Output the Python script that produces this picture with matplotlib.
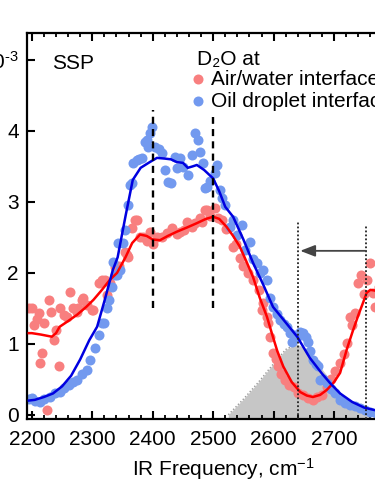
import matplotlib
matplotlib.use("Agg")
import matplotlib.pyplot as plt
from matplotlib.ticker import MultipleLocator, FixedLocator

plt.rcParams['font.family'] = ['Liberation Sans', 'DejaVu Sans']
plt.rcParams['mathtext.fontset'] = 'custom'
plt.rcParams['mathtext.rm'] = 'Liberation Sans'
plt.rcParams['mathtext.default'] = 'regular'

# ---------------- data ----------------
blue_x = [2196, 2200, 2206, 2213, 2220, 2230, 2238, 2246, 2254, 2261, 2268, 2275, 2283, 2291, 2296,
          2304, 2311, 2316, 2319, 2324, 2328, 2332, 2335, 2338, 2341, 2343, 2346, 2350, 2354, 2359,
          2362, 2366, 2367, 2374, 2378, 2382, 2387, 2390, 2392, 2395, 2399, 2404, 2410, 2415, 2420,
          2425, 2430, 2437, 2440, 2445, 2450, 2458, 2465, 2470, 2475, 2478, 2483, 2486, 2489, 2495,
          2503, 2506, 2511, 2515, 2520, 2528, 2533, 2539, 2547, 2553, 2561, 2566, 2572, 2578, 2583,
          2589, 2594, 2599, 2605, 2611, 2617, 2622, 2627, 2630, 2635, 2639, 2644, 2649, 2653, 2657,
          2661, 2665, 2670, 2674, 2677, 2682, 2688, 2695, 2702, 2710, 2718, 2726, 2735, 2743, 2752,
          2760, 2770]
blue_y = [0.22, 0.24, 0.20, 0.18, 0.22, 0.25, 0.30, 0.32, 0.38, 0.42, 0.46, 0.49, 0.57, 0.63, 0.77,
          0.94, 1.13, 1.30, 1.30, 1.51, 1.62, 1.80, 2.15, 1.97, 1.97, 2.42, 2.04, 2.42, 2.61, 2.96,
          3.24, 3.27, 3.55, 3.59, 3.60, 3.62, 3.85, 3.87, 3.77, 3.97, 4.06, 3.77, 3.75, 3.69, 3.45,
          3.28, 3.27, 3.63, 3.48, 3.62, 3.49, 3.38, 3.66, 3.97, 3.87, 3.70, 3.55, 3.20, 3.21, 3.30,
          3.41, 3.52, 3.17, 3.05, 2.96, 2.65, 2.75, 2.54, 2.68, 2.32, 2.44, 2.20, 2.14, 2.00, 2.04,
          1.90, 1.65, 1.52, 1.42, 1.34, 1.28, 1.24, 1.15, 1.03, 1.12, 1.10, 1.16, 1.15, 1.10, 1.03,
          0.90, 0.77, 0.72, 0.68, 0.49, 0.50, 0.45, 0.36, 0.31, 0.21, 0.17, 0.14, 0.12, 0.10, 0.07,
          0.04, 0.03]

red_x = [2196, 2200, 2203, 2208, 2212, 2213, 2217, 2220, 2225, 2228, 2232, 2236, 2240, 2245, 2246,
         2253, 2258, 2263, 2268, 2275, 2276, 2283, 2285, 2292, 2299, 2301, 2311, 2316, 2321, 2324,
         2330, 2338, 2345, 2354, 2357, 2359, 2366, 2371, 2374, 2379, 2384, 2390, 2395, 2401, 2407,
         2415, 2423, 2432, 2440, 2445, 2451, 2457, 2465, 2470, 2478, 2481, 2486, 2489, 2495, 2503,
         2508, 2515, 2522, 2533, 2538, 2544, 2550, 2557, 2566, 2575, 2581, 2583, 2589, 2591, 2594,
         2599, 2604, 2608, 2613, 2619, 2626, 2633, 2641, 2649, 2657, 2665, 2672, 2680, 2688, 2695,
         2702, 2710, 2716, 2721, 2726, 2730, 2735, 2740, 2745, 2750, 2755, 2760, 2765, 2768, 2775]
red_y = [1.50, 1.51, 1.27, 1.35, 1.44, 0.73, 0.87, 1.30, 0.07, 1.62, 1.45, 1.06, 1.20, 0.68, 1.51,
         1.41, 1.38, 1.73, 1.50, 1.45, 1.51, 1.62, 1.65, 1.55, 1.48, 1.48, 1.86, 1.90, 1.90, 1.69,
         1.85, 2.08, 2.10, 2.30, 2.25, 2.22, 2.63, 2.75, 2.75, 2.50, 2.51, 2.45, 2.58, 2.40, 2.51,
         2.50, 2.56, 2.63, 2.55, 2.58, 2.60, 2.72, 2.65, 2.70, 2.77, 2.72, 2.89, 2.89, 2.80, 2.91,
         2.77, 2.75, 2.62, 2.37, 2.40, 2.21, 2.10, 2.00, 1.90, 1.76, 1.48, 1.58, 1.38, 1.30, 1.10,
         0.87, 0.78, 0.68, 0.58, 0.49, 0.42, 0.39, 0.30, 0.28, 0.24, 0.21, 0.25, 0.28, 0.39, 0.50,
         0.61, 0.73, 0.85, 1.01, 1.38, 1.27, 1.44, 1.86, 1.97, 1.70, 1.90, 2.14, 1.72, 1.52, 1.80]

red_fit_x = [2195, 2200, 2215, 2233, 2240, 2246, 2260, 2275, 2290, 2302, 2315, 2329, 2341, 2355, 2366,
             2379, 2390, 2400, 2412, 2425, 2440, 2457, 2473, 2488, 2500, 2510, 2522, 2533, 2544, 2555,
             2566, 2577, 2589, 2597, 2606, 2616, 2630, 2644, 2655, 2665, 2677, 2688, 2700, 2710, 2721,
             2731, 2740, 2748, 2754, 2760, 2768, 2780, 2800]
red_fit_y = [1.15, 1.15, 1.13, 1.10, 1.15, 1.24, 1.32, 1.41, 1.52, 1.62, 1.75, 1.90, 2.00, 2.22, 2.42,
             2.54, 2.52, 2.47, 2.46, 2.52, 2.58, 2.64, 2.70, 2.76, 2.79, 2.76, 2.65, 2.52, 2.37, 2.16,
             1.94, 1.65, 1.38, 1.15, 0.90, 0.68, 0.46, 0.32, 0.27, 0.25, 0.28, 0.35, 0.46, 0.59, 0.92,
             1.18, 1.40, 1.58, 1.72, 1.76, 1.75, 1.65, 1.40]

blue_fit_x = [2195, 2205, 2220, 2235, 2250, 2265, 2280, 2295, 2308, 2320, 2334, 2342, 2355, 2367, 2380,
              2395, 2407, 2420, 2430, 2440, 2450, 2458, 2466, 2473, 2485, 2500, 2510, 2520, 2533, 2550,
              2566, 2583, 2599, 2620, 2639, 2660, 2680, 2693, 2710, 2730, 2750, 2770, 2800]
blue_fit_y = [0.20, 0.21, 0.25, 0.30, 0.40, 0.55, 0.78, 1.05, 1.24, 1.60, 2.04, 2.22, 2.80, 3.31, 3.48,
              3.56, 3.62, 3.61, 3.60, 3.56, 3.55, 3.48, 3.50, 3.52, 3.45, 3.33, 3.15, 2.93, 2.79, 2.47,
              2.14, 1.83, 1.52, 1.30, 1.10, 0.80, 0.58, 0.45, 0.30, 0.18, 0.10, 0.06, 0.04]

gray_x = [2525, 2550, 2575, 2600, 2620, 2638, 2655, 2675, 2700, 2720, 2740, 2760]
gray_y = [0.00, 0.22, 0.46, 0.72, 0.92, 1.00, 0.92, 0.70, 0.42, 0.22, 0.08, 0.00]

dash_lines = [(2400, 1.50, 4.30), (2500, 1.50, 4.20)]
dot_lines = [(2640, -0.06, 2.72), (2753, -0.06, 2.68)]

x_ticks = [2200, 2300, 2400, 2500, 2600, 2700]
y_ticks = [0, 1, 2, 3, 4, 5]
y_tick_labels = ['0', '1', '2', '3', '4', '5x10$^{\u2010' + '3}$']

# ---------------- figure ----------------
fig = plt.figure(figsize=(3.75, 5.0), dpi=100)
ax = fig.add_axes([0.072, 0.162, 0.98, 0.772])
ax.set_xlim(2192, 2800)
ax.set_ylim(-0.06, 5.38)

ax.fill_between(gray_x, gray_y, -0.06, color='#c6c6c6', lw=0, zorder=1)
ax.plot(gray_x[:6], gray_y[:6], color='#9a9a9a', lw=1.0, ls=(0, (1, 1.5)), zorder=1.5)

ax.scatter(red_x, red_y, s=52, color='#f87f7f', lw=0, zorder=2)
ax.scatter(blue_x, blue_y, s=52, color='#7299ef', lw=0, zorder=2.5)
ax.plot(red_fit_x, red_fit_y, color='#ff0000', lw=1.8, zorder=3)
ax.plot(blue_fit_x, blue_fit_y, color='#0000e0', lw=1.8, zorder=3.5)

for x, y0, y1 in dash_lines:
    ax.plot([x, x], [y0, y1], color='black', lw=1.7, dashes=(3.0, 2.2), zorder=4)
for x, y0, y1 in dot_lines:
    ax.plot([x, x], [y0, y1], color='#222222', lw=1.3, ls=(0, (1, 1.2)), zorder=4)

ax.annotate('', xy=(2644, 2.31), xytext=(2753, 2.31),
            arrowprops=dict(arrowstyle='-|>,head_length=0.9,head_width=0.35',
                            color='#444444', lw=1.3, shrinkA=0, shrinkB=0), zorder=5)

# text
ax.text(2234, 4.95, 'SSP', fontsize=15, va='center', ha='left')
ax.text(2473, 5.0, 'D\u2082O at', fontsize=15, va='center', ha='left')
ax.scatter([2475], [4.73], s=52, color='#f87f7f', lw=0, clip_on=False)
ax.scatter([2475], [4.42], s=52, color='#7299ef', lw=0, clip_on=False)
ax.text(2497, 4.73, 'Air/water interface', fontsize=15, va='center', ha='left')
ax.text(2497, 4.42, 'Oil droplet interface', fontsize=15, va='center', ha='left')

# axes styling
for sp in ax.spines.values():
    sp.set_linewidth(1.6)
ax.xaxis.set_major_locator(FixedLocator(x_ticks + [2800]))
ax.xaxis.set_minor_locator(MultipleLocator(20))
ax.set_xticklabels([str(v) for v in x_ticks] + [''])
ax.yaxis.set_major_locator(FixedLocator(y_ticks))
ax.set_yticklabels(y_tick_labels)
ax.tick_params(axis='both', which='both', direction='in', top=True, right=False, labelsize=15)
ax.tick_params(axis='x', which='major', length=6, width=1.5, pad=8)
ax.tick_params(axis='x', which='minor', length=3, width=1.3)
ax.tick_params(axis='y', which='major', length=6, width=1.5, pad=6)

ax.set_xlabel('IR Frequency, cm$^{-1}$', fontsize=15)
ax.xaxis.set_label_coords(0.534, -0.095)

fig.savefig('out.png', dpi=100)
